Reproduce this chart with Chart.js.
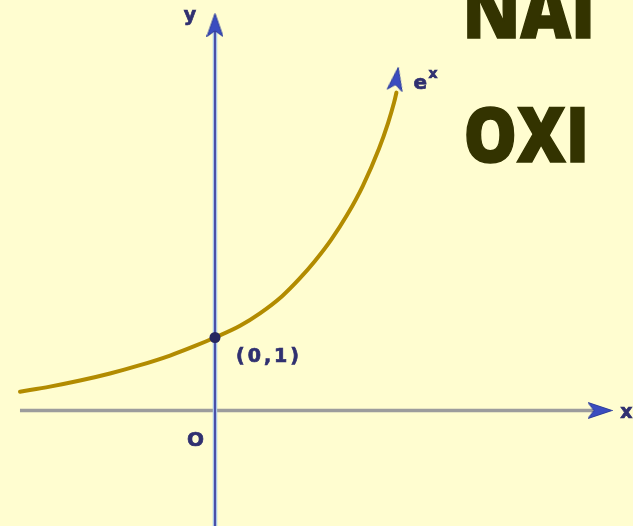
<!DOCTYPE html>
<html><head><meta charset="utf-8">
<script src="https://cdn.jsdelivr.net/npm/chart.js@4"></script>
<style>html,body{margin:0;padding:0;background:#FFFDD0;overflow:hidden}
#wrap{width:633px;height:526px;position:relative}
</style></head><body><div id="wrap"><canvas id="c" width="633" height="526"></canvas></div>
<script>
// ---- data (x, y in function units) ----
const curveX = [-1.393, -1.179, -0.964, -0.750, -0.536, -0.321, -0.143, 0, 0.179, 0.321, 0.479, 0.607, 0.714, 0.829, 0.943, 1.057, 1.171, 1.236, 1.279, 1.296];
const curveY = [0.258, 0.327, 0.410, 0.507, 0.621, 0.753, 0.884, 1.0, 1.161, 1.331, 1.566, 1.812, 2.048, 2.337, 2.677, 3.082, 3.586, 3.938, 4.218, 4.355];
const keyPointX = [0];
const keyPointY = [1];
const xAxisX = [-1.393, 2.72];
const xAxisY = [0, 0];
const yAxisX = [0, 0];
const yAxisY = [-1.7, 5.2];
const arrowX = [0, 2.75, 1.296];
const arrowY = [5.281, 0, 4.542];
const textLines = ['NAI', 'OXI'];
const keyLabel = '(0,1)';
const originLabel = 'O';
const xLabel = 'x';
const yLabel = 'y';
const curveBase = 'e';
const curveExp = 'x';

const pts = (xs, ys) => xs.map((x, i) => ({x, y: ys[i]}));

function makeArrow(w, h, color) {
  const c = document.createElement('canvas');
  c.width = w; c.height = h;
  const g = c.getContext('2d');
  g.fillStyle = color;
  g.strokeStyle = '#2a3a9a';
  g.lineWidth = 1;
  g.beginPath();
  g.moveTo(w / 2, 0.5);
  g.lineTo(w - 0.5, h - 0.5);
  g.lineTo(w / 2, h * 0.74);
  g.lineTo(0.5, h - 0.5);
  g.closePath();
  g.fill();
  g.stroke();
  return c;
}
const arrowAxisY = makeArrow(17, 24, '#3a4cc0');
const arrowAxisX = makeArrow(17, 25, '#3a4cc0');
const arrowCurve = makeArrow(16, 24, '#3a4cc0');

const labelPlugin = {
  id: 'labels',
  afterDatasetsDraw(chart) {
    const ctx = chart.ctx;
    const sx = chart.scales.x, sy = chart.scales.y;
    const P = (x, y) => [sx.getPixelForValue(x), sy.getPixelForValue(y)];
    ctx.save();
    ctx.fillStyle = '#303070';
    ctx.strokeStyle = '#303070';
    ctx.lineWidth = 0.7;
    ctx.textBaseline = 'alphabetic';
    const txt = (t, x, y, font, align, spacing) => {
      ctx.font = font;
      ctx.textAlign = align;
      ctx.letterSpacing = spacing || '0px';
      ctx.fillText(t, x, y);
      ctx.strokeText(t, x, y);
    };
    let [ax, ay] = P(arrowX[0], arrowY[0]);
    txt(yLabel, ax - 25, ay - 4, 'bold 19px "DejaVu Sans"', 'center');
    [ax, ay] = P(arrowX[1], arrowY[1]);
    txt(xLabel, ax + 26.5, ay + 7.5, 'bold 19px "DejaVu Sans"', 'center');
    [ax, ay] = P(0, 0);
    txt(originLabel, ax - 19.5, ay + 36, 'bold 20px "DejaVu Sans"', 'center');
    [ax, ay] = P(keyPointX[0], keyPointY[0]);
    txt(keyLabel, ax + 21, ay + 24.2, 'bold 19px "DejaVu Sans"', 'left', '3px');
    [ax, ay] = P(arrowX[2], arrowY[2]);
    txt(curveBase, ax + 17, ay + 10, 'bold 20px "DejaVu Sans"', 'left');
    txt(curveExp, ax + 32, ay - 0.5, 'bold 14px "DejaVu Sans"', 'left');
    ctx.restore();

    // big overlay text
    ctx.save();
    ctx.fillStyle = '#333300';
    ctx.strokeStyle = '#333300';
    ctx.lineWidth = 1.5;
    ctx.font = '800 77px "Open Sans"';
    ctx.textAlign = 'left';
    ctx.textBaseline = 'alphabetic';
    const spots = [[467, 38, 123], [466, 162, 118]];
    textLines.forEach((t, i) => {
      const m = ctx.measureText(t);
      const inkW = m.actualBoundingBoxRight + m.actualBoundingBoxLeft;
      const s = spots[i][2] / inkW;
      ctx.save();
      ctx.translate(spots[i][0], spots[i][1]);
      ctx.scale(s, 1);
      ctx.fillText(t, m.actualBoundingBoxLeft, 0);
      ctx.strokeText(t, m.actualBoundingBoxLeft, 0);
      ctx.restore();
    });
    ctx.restore();
  }
};

new Chart(document.getElementById('c'), {
  type: 'scatter',
  data: {
    datasets: [
      { data: pts(keyPointX, keyPointY), pointRadius: 5.5, pointBackgroundColor: '#262660', pointBorderWidth: 0, order: 0 },
      { data: pts(arrowX, arrowY), pointStyle: [arrowAxisY, arrowAxisX, arrowCurve], rotation: [0, 90, 9], order: 1 },
      { data: pts(curveX, curveY), showLine: true, borderColor: '#b28b00', borderWidth: 4, pointRadius: 0, cubicInterpolationMode: 'monotone', borderCapStyle: 'round', order: 2 },
      { data: pts(yAxisX, yAxisY), showLine: true, borderColor: '#4a4fa6', borderWidth: 2, pointRadius: 0, order: 3 },
      { data: pts(yAxisX, yAxisY), showLine: true, borderColor: '#a9c6ea', borderWidth: 4.5, pointRadius: 0, order: 4 },
      { data: pts(xAxisX, xAxisY), showLine: true, borderColor: '#9c9c9c', borderWidth: 3.5, pointRadius: 0, order: 5 }
    ]
  },
  options: {
    responsive: false,
    devicePixelRatio: 1,
    animation: false,
    layout: { padding: 0, autoPadding: false },
    plugins: { legend: { display: false }, tooltip: { enabled: false } },
    scales: {
      x: { type: 'linear', display: false, min: -1.5357, max: 2.9857 },
      y: { type: 'linear', display: false, min: -1.5822, max: 5.6233 }
    }
  },
  plugins: [labelPlugin]
});
</script></body></html>
